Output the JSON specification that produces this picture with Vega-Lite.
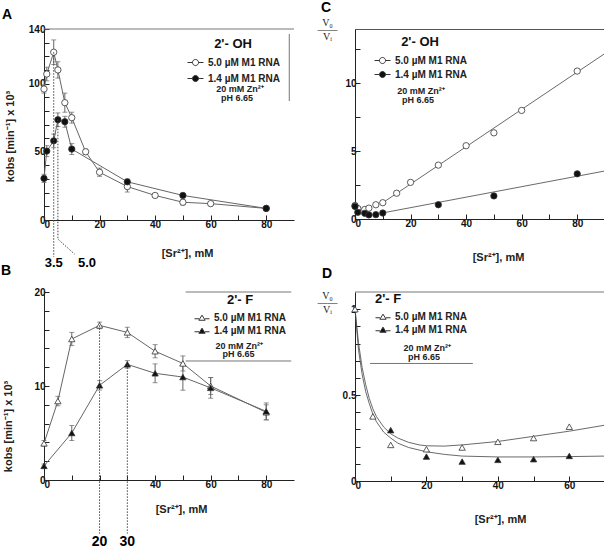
{
 "$schema": "https://vega.github.io/schema/vega-lite/v6.json",
 "background": "white",
 "padding": {"left": 1, "top": 0, "right": 0, "bottom": 0},
 "columns": 2,
 "spacing": {"row": -6, "column": 21},
 "resolve": {"scale": {"fill": "independent"}, "legend": {"fill": "independent"}},
 "datasets": {
  "one": [{"note": 1}],
  "a": [
   {"conc":0,"k":96,"err":3,"series":"5.0 µM M1 RNA"},
   {"conc":1,"k":107,"err":5,"series":"5.0 µM M1 RNA"},
   {"conc":3.5,"k":123,"err":9,"series":"5.0 µM M1 RNA"},
   {"conc":5,"k":110,"err":6,"series":"5.0 µM M1 RNA"},
   {"conc":7.5,"k":86,"err":7,"series":"5.0 µM M1 RNA"},
   {"conc":10,"k":75,"err":4,"series":"5.0 µM M1 RNA"},
   {"conc":15,"k":50,"err":2,"series":"5.0 µM M1 RNA"},
   {"conc":20,"k":35,"err":3,"series":"5.0 µM M1 RNA"},
   {"conc":30,"k":24.5,"err":4,"series":"5.0 µM M1 RNA"},
   {"conc":40,"k":18,"err":1.5,"series":"5.0 µM M1 RNA"},
   {"conc":50,"k":13,"err":2,"series":"5.0 µM M1 RNA"},
   {"conc":60,"k":12,"err":1.5,"series":"5.0 µM M1 RNA"},
   {"conc":80,"k":8.5,"err":1.5,"series":"5.0 µM M1 RNA"},
   {"conc":0,"k":30.5,"err":3,"series":"1.4 µM M1 RNA"},
   {"conc":1,"k":50.5,"err":4,"series":"1.4 µM M1 RNA"},
   {"conc":3.5,"k":58,"err":5,"series":"1.4 µM M1 RNA"},
   {"conc":5,"k":73.5,"err":5,"series":"1.4 µM M1 RNA"},
   {"conc":7.5,"k":72,"err":4,"series":"1.4 µM M1 RNA"},
   {"conc":10,"k":52,"err":4,"series":"1.4 µM M1 RNA"},
   {"conc":30,"k":28,"err":2,"series":"1.4 µM M1 RNA"},
   {"conc":50,"k":18,"err":1.5,"series":"1.4 µM M1 RNA"},
   {"conc":80,"k":8.5,"err":1.5,"series":"1.4 µM M1 RNA"}
  ],
  "a_guide": [
   {"conc":5,"k":73.5,"step":1},
   {"conc":5,"k":-14,"step":2},
   {"conc":11,"k":-25,"step":3}
  ],
  "c": [
   {"conc":0,"v":1.0,"series":"5.0 µM M1 RNA"},
   {"conc":1,"v":0.78,"series":"5.0 µM M1 RNA"},
   {"conc":3.5,"v":0.7,"series":"5.0 µM M1 RNA"},
   {"conc":5,"v":0.8,"series":"5.0 µM M1 RNA"},
   {"conc":7.5,"v":1.05,"series":"5.0 µM M1 RNA"},
   {"conc":10,"v":1.2,"series":"5.0 µM M1 RNA"},
   {"conc":15,"v":1.9,"series":"5.0 µM M1 RNA"},
   {"conc":20,"v":2.7,"series":"5.0 µM M1 RNA"},
   {"conc":30,"v":3.97,"series":"5.0 µM M1 RNA"},
   {"conc":40,"v":5.4,"series":"5.0 µM M1 RNA"},
   {"conc":50,"v":6.35,"series":"5.0 µM M1 RNA"},
   {"conc":60,"v":8.0,"series":"5.0 µM M1 RNA"},
   {"conc":80,"v":10.9,"series":"5.0 µM M1 RNA"},
   {"conc":0,"v":0.93,"series":"1.4 µM M1 RNA"},
   {"conc":1,"v":0.49,"series":"1.4 µM M1 RNA"},
   {"conc":3.5,"v":0.42,"series":"1.4 µM M1 RNA"},
   {"conc":5,"v":0.3,"series":"1.4 µM M1 RNA"},
   {"conc":7.5,"v":0.32,"series":"1.4 µM M1 RNA"},
   {"conc":10,"v":0.44,"series":"1.4 µM M1 RNA"},
   {"conc":30,"v":1.05,"series":"1.4 µM M1 RNA"},
   {"conc":50,"v":1.7,"series":"1.4 µM M1 RNA"},
   {"conc":80,"v":3.33,"series":"1.4 µM M1 RNA"}
  ],
  "c_fit": [
   {"conc":10,"v":1.2,"series":"5.0 µM M1 RNA"},
   {"conc":90,"v":12.2,"series":"5.0 µM M1 RNA"},
   {"conc":10,"v":0.45,"series":"1.4 µM M1 RNA"},
   {"conc":90,"v":3.54,"series":"1.4 µM M1 RNA"}
  ],
  "b": [
   {"conc":0,"k":3.9,"err":0.3,"series":"5.0 µM M1 RNA"},
   {"conc":5,"k":8.4,"err":0.5,"series":"5.0 µM M1 RNA"},
   {"conc":10,"k":15.0,"err":0.7,"series":"5.0 µM M1 RNA"},
   {"conc":20,"k":16.45,"err":0.35,"series":"5.0 µM M1 RNA"},
   {"conc":30,"k":15.7,"err":0.55,"series":"5.0 µM M1 RNA"},
   {"conc":40,"k":13.7,"err":0.7,"series":"5.0 µM M1 RNA"},
   {"conc":50,"k":12.4,"err":0.8,"series":"5.0 µM M1 RNA"},
   {"conc":60,"k":10.0,"err":0.9,"series":"5.0 µM M1 RNA"},
   {"conc":80,"k":7.2,"err":0.8,"series":"5.0 µM M1 RNA"},
   {"conc":0,"k":1.5,"err":0.2,"series":"1.4 µM M1 RNA"},
   {"conc":10,"k":5.0,"err":0.8,"series":"1.4 µM M1 RNA"},
   {"conc":20,"k":10.07,"err":0.5,"series":"1.4 µM M1 RNA"},
   {"conc":30,"k":12.3,"err":0.4,"series":"1.4 µM M1 RNA"},
   {"conc":40,"k":11.35,"err":1.0,"series":"1.4 µM M1 RNA"},
   {"conc":50,"k":10.95,"err":1.4,"series":"1.4 µM M1 RNA"},
   {"conc":60,"k":9.8,"err":1.1,"series":"1.4 µM M1 RNA"},
   {"conc":80,"k":7.3,"err":0.9,"series":"1.4 µM M1 RNA"}
  ],
  "d": [
   {"conc":0,"v":1.0,"series":"5.0 µM M1 RNA"},
   {"conc":5,"v":0.376,"series":"5.0 µM M1 RNA"},
   {"conc":10,"v":0.21,"series":"5.0 µM M1 RNA"},
   {"conc":20,"v":0.185,"series":"5.0 µM M1 RNA"},
   {"conc":30,"v":0.195,"series":"5.0 µM M1 RNA"},
   {"conc":40,"v":0.228,"series":"5.0 µM M1 RNA"},
   {"conc":50,"v":0.25,"series":"5.0 µM M1 RNA"},
   {"conc":60,"v":0.316,"series":"5.0 µM M1 RNA"},
   {"conc":10,"v":0.296,"series":"1.4 µM M1 RNA"},
   {"conc":20,"v":0.142,"series":"1.4 µM M1 RNA"},
   {"conc":30,"v":0.113,"series":"1.4 µM M1 RNA"},
   {"conc":40,"v":0.123,"series":"1.4 µM M1 RNA"},
   {"conc":50,"v":0.127,"series":"1.4 µM M1 RNA"},
   {"conc":60,"v":0.146,"series":"1.4 µM M1 RNA"}
  ],
  "d_fit": [
   {"conc":0,"v":1.0,"series":"5.0 µM M1 RNA"},
   {"conc":1,"v":0.8,"series":"5.0 µM M1 RNA"},
   {"conc":2,"v":0.66,"series":"5.0 µM M1 RNA"},
   {"conc":3,"v":0.56,"series":"5.0 µM M1 RNA"},
   {"conc":4,"v":0.48,"series":"5.0 µM M1 RNA"},
   {"conc":5,"v":0.42,"series":"5.0 µM M1 RNA"},
   {"conc":6,"v":0.375,"series":"5.0 µM M1 RNA"},
   {"conc":8,"v":0.315,"series":"5.0 µM M1 RNA"},
   {"conc":10,"v":0.275,"series":"5.0 µM M1 RNA"},
   {"conc":12,"v":0.25,"series":"5.0 µM M1 RNA"},
   {"conc":15,"v":0.225,"series":"5.0 µM M1 RNA"},
   {"conc":18,"v":0.21,"series":"5.0 µM M1 RNA"},
   {"conc":20,"v":0.205,"series":"5.0 µM M1 RNA"},
   {"conc":25,"v":0.203,"series":"5.0 µM M1 RNA"},
   {"conc":30,"v":0.21,"series":"5.0 µM M1 RNA"},
   {"conc":40,"v":0.23,"series":"5.0 µM M1 RNA"},
   {"conc":50,"v":0.26,"series":"5.0 µM M1 RNA"},
   {"conc":60,"v":0.29,"series":"5.0 µM M1 RNA"},
   {"conc":70,"v":0.325,"series":"5.0 µM M1 RNA"},
   {"conc":0,"v":1.0,"series":"1.4 µM M1 RNA"},
   {"conc":1,"v":0.76,"series":"1.4 µM M1 RNA"},
   {"conc":2,"v":0.62,"series":"1.4 µM M1 RNA"},
   {"conc":3,"v":0.52,"series":"1.4 µM M1 RNA"},
   {"conc":4,"v":0.45,"series":"1.4 µM M1 RNA"},
   {"conc":5,"v":0.39,"series":"1.4 µM M1 RNA"},
   {"conc":6,"v":0.345,"series":"1.4 µM M1 RNA"},
   {"conc":8,"v":0.285,"series":"1.4 µM M1 RNA"},
   {"conc":10,"v":0.25,"series":"1.4 µM M1 RNA"},
   {"conc":12,"v":0.22,"series":"1.4 µM M1 RNA"},
   {"conc":15,"v":0.195,"series":"1.4 µM M1 RNA"},
   {"conc":20,"v":0.17,"series":"1.4 µM M1 RNA"},
   {"conc":25,"v":0.155,"series":"1.4 µM M1 RNA"},
   {"conc":30,"v":0.145,"series":"1.4 µM M1 RNA"},
   {"conc":40,"v":0.14,"series":"1.4 µM M1 RNA"},
   {"conc":50,"v":0.14,"series":"1.4 µM M1 RNA"},
   {"conc":60,"v":0.142,"series":"1.4 µM M1 RNA"},
   {"conc":70,"v":0.145,"series":"1.4 µM M1 RNA"}
  ]
 },
 "concat": [
  {
   "width": 250, "height": 191,
   "title": {"text": "A", "dx": -42, "offset": 2},
   "layer": [
    {"data": {"name": "a"}, "mark": {"type": "line", "color": "#666", "strokeWidth": 1},
     "encoding": {
      "x": {"field": "conc", "type": "quantitative", "scale": {"domain": [0, 90], "nice": false, "zero": false}, "axis": {"title": "[Sr²⁺], mM", "values": [0,10,20,30,40,50,60,70,80], "labelExpr": "datum.value == 0 || datum.value == 20 || datum.value == 40 || datum.value == 60 || datum.value == 80 ? datum.label : ''", "titleX": 143, "titleY": 33, "titleBaseline": "middle", "titleAlign": "center"}},
      "y": {"field": "k", "type": "quantitative", "scale": {"domain": [0, 140], "nice": false, "zero": false}, "axis": {"title": "kobs [min⁻¹] x 10³", "values": [0,10,20,30,40,50,60,70,80,90,100,110,120,130,140], "labelExpr": "datum.value == 0 || datum.value == 50 || datum.value == 100 || datum.value == 140 ? datum.label : ''", "titleX": -34, "titleY": 107, "titleAngle": 270, "titleBaseline": "middle", "titleAlign": "center"}},
      "detail": {"field": "series"}}},
    {"data": {"name": "a"}, "mark": {"type": "errorbar", "ticks": true, "color": "#666"},
     "encoding": {
      "x": {"field": "conc", "type": "quantitative", "scale": {"domain": [0, 90], "nice": false, "zero": false}, "axis": {"title": "[Sr²⁺], mM", "values": [0,10,20,30,40,50,60,70,80], "labelExpr": "datum.value == 0 || datum.value == 20 || datum.value == 40 || datum.value == 60 || datum.value == 80 ? datum.label : ''", "titleX": 143, "titleY": 33, "titleBaseline": "middle", "titleAlign": "center"}},
      "y": {"field": "k", "type": "quantitative", "scale": {"domain": [0, 140], "nice": false, "zero": false}, "axis": {"title": "kobs [min⁻¹] x 10³", "values": [0,10,20,30,40,50,60,70,80,90,100,110,120,130,140], "labelExpr": "datum.value == 0 || datum.value == 50 || datum.value == 100 || datum.value == 140 ? datum.label : ''", "titleX": -34, "titleY": 107, "titleAngle": 270, "titleBaseline": "middle", "titleAlign": "center"}},
      "yError": {"field": "err"}}},
    {"data": {"name": "a"}, "mark": {"type": "point", "size": 40, "filled": true, "stroke": "#333", "strokeWidth": 0.8, "opacity": 1},
     "encoding": {
      "x": {"field": "conc", "type": "quantitative", "scale": {"domain": [0, 90], "nice": false, "zero": false}, "axis": {"title": "[Sr²⁺], mM", "values": [0,10,20,30,40,50,60,70,80], "labelExpr": "datum.value == 0 || datum.value == 20 || datum.value == 40 || datum.value == 60 || datum.value == 80 ? datum.label : ''", "titleX": 143, "titleY": 33, "titleBaseline": "middle", "titleAlign": "center"}},
      "y": {"field": "k", "type": "quantitative", "scale": {"domain": [0, 140], "nice": false, "zero": false}, "axis": {"title": "kobs [min⁻¹] x 10³", "values": [0,10,20,30,40,50,60,70,80,90,100,110,120,130,140], "labelExpr": "datum.value == 0 || datum.value == 50 || datum.value == 100 || datum.value == 140 ? datum.label : ''", "titleX": -34, "titleY": 107, "titleAngle": 270, "titleBaseline": "middle", "titleAlign": "center"}},
      "fill": {"field": "series", "type": "nominal", "scale": {"domain": ["5.0 µM M1 RNA", "1.4 µM M1 RNA"], "range": ["white", "#111"]},
       "legend": {"title": "2'- OH", "legendX": 143, "legendY": 9, "rowPadding": 2, "symbolType": "M-1,0H-0.38M0.38,0H1M0.38,0A0.38,0.38,0,1,1,-0.38,0A0.38,0.38,0,1,1,0.38,0Z", "symbolSize": 256, "symbolStrokeColor": "#333", "symbolStrokeWidth": 1}}}},
    {"data": {"name": "a_guide"}, "mark": {"type": "line", "color": "#444", "strokeWidth": 1, "strokeDash": [1.5, 1.5]},
     "encoding": {
      "x": {"field": "conc", "type": "quantitative", "scale": {"domain": [0, 90], "nice": false, "zero": false}, "axis": {"title": "[Sr²⁺], mM", "values": [0,10,20,30,40,50,60,70,80], "labelExpr": "datum.value == 0 || datum.value == 20 || datum.value == 40 || datum.value == 60 || datum.value == 80 ? datum.label : ''", "titleX": 143, "titleY": 33, "titleBaseline": "middle", "titleAlign": "center"}},
      "y": {"field": "k", "type": "quantitative", "scale": {"domain": [0, 140], "nice": false, "zero": false}, "axis": {"title": "kobs [min⁻¹] x 10³", "values": [0,10,20,30,40,50,60,70,80,90,100,110,120,130,140], "labelExpr": "datum.value == 0 || datum.value == 50 || datum.value == 100 || datum.value == 140 ? datum.label : ''", "titleX": -34, "titleY": 107, "titleAngle": 270, "titleBaseline": "middle", "titleAlign": "center"}},
      "order": {"field": "step"}}},
    {"data": {"name": "one"}, "mark": {"type": "rule", "color": "#444", "strokeWidth": 1, "strokeDash": [1.5, 1.5]},
     "encoding": {
      "x": {"datum": 3.5, "type": "quantitative", "scale": {"domain": [0, 90], "nice": false, "zero": false}, "axis": {"title": "[Sr²⁺], mM", "values": [0,10,20,30,40,50,60,70,80], "labelExpr": "datum.value == 0 || datum.value == 20 || datum.value == 40 || datum.value == 60 || datum.value == 80 ? datum.label : ''", "titleX": 143, "titleY": 33, "titleBaseline": "middle", "titleAlign": "center"}},
      "y": {"datum": 123, "type": "quantitative", "scale": {"domain": [0, 140], "nice": false, "zero": false}, "axis": {"title": "kobs [min⁻¹] x 10³", "values": [0,10,20,30,40,50,60,70,80,90,100,110,120,130,140], "labelExpr": "datum.value == 0 || datum.value == 50 || datum.value == 100 || datum.value == 140 ? datum.label : ''", "titleX": -34, "titleY": 107, "titleAngle": 270, "titleBaseline": "middle", "titleAlign": "center"}},
      "y2": {"datum": -27}}},
    {"data": {"name": "one"}, "mark": {"type": "text", "text": "3.5", "fontSize": 13, "fontWeight": "bold", "baseline": "middle", "align": "center", "color": "#000"},
     "encoding": {
      "x": {"datum": 3.5, "type": "quantitative", "scale": {"domain": [0, 90], "nice": false, "zero": false}, "axis": {"title": "[Sr²⁺], mM", "values": [0,10,20,30,40,50,60,70,80], "labelExpr": "datum.value == 0 || datum.value == 20 || datum.value == 40 || datum.value == 60 || datum.value == 80 ? datum.label : ''", "titleX": 143, "titleY": 33, "titleBaseline": "middle", "titleAlign": "center"}},
      "y": {"datum": -31.5, "type": "quantitative", "scale": {"domain": [0, 140], "nice": false, "zero": false}, "axis": {"title": "kobs [min⁻¹] x 10³", "values": [0,10,20,30,40,50,60,70,80,90,100,110,120,130,140], "labelExpr": "datum.value == 0 || datum.value == 50 || datum.value == 100 || datum.value == 140 ? datum.label : ''", "titleX": -34, "titleY": 107, "titleAngle": 270, "titleBaseline": "middle", "titleAlign": "center"}}}},
    {"data": {"name": "one"}, "mark": {"type": "text", "text": "5.0", "fontSize": 13, "fontWeight": "bold", "baseline": "middle", "align": "center", "color": "#000"},
     "encoding": {
      "x": {"datum": 15.5, "type": "quantitative", "scale": {"domain": [0, 90], "nice": false, "zero": false}, "axis": {"title": "[Sr²⁺], mM", "values": [0,10,20,30,40,50,60,70,80], "labelExpr": "datum.value == 0 || datum.value == 20 || datum.value == 40 || datum.value == 60 || datum.value == 80 ? datum.label : ''", "titleX": 143, "titleY": 33, "titleBaseline": "middle", "titleAlign": "center"}},
      "y": {"datum": -31.5, "type": "quantitative", "scale": {"domain": [0, 140], "nice": false, "zero": false}, "axis": {"title": "kobs [min⁻¹] x 10³", "values": [0,10,20,30,40,50,60,70,80,90,100,110,120,130,140], "labelExpr": "datum.value == 0 || datum.value == 50 || datum.value == 100 || datum.value == 140 ? datum.label : ''", "titleX": -34, "titleY": 107, "titleAngle": 270, "titleBaseline": "middle", "titleAlign": "center"}}}},
    {"data": {"name": "one"}, "mark": {"type": "text", "text": "20 mM Zn²⁺", "fontSize": 9, "fontWeight": "bold", "baseline": "middle", "align": "center", "color": "#222"},
     "encoding": {
      "x": {"datum": 70.6, "type": "quantitative", "scale": {"domain": [0, 90], "nice": false, "zero": false}, "axis": {"title": "[Sr²⁺], mM", "values": [0,10,20,30,40,50,60,70,80], "labelExpr": "datum.value == 0 || datum.value == 20 || datum.value == 40 || datum.value == 60 || datum.value == 80 ? datum.label : ''", "titleX": 143, "titleY": 33, "titleBaseline": "middle", "titleAlign": "center"}},
      "y": {"datum": 96, "type": "quantitative", "scale": {"domain": [0, 140], "nice": false, "zero": false}, "axis": {"title": "kobs [min⁻¹] x 10³", "values": [0,10,20,30,40,50,60,70,80,90,100,110,120,130,140], "labelExpr": "datum.value == 0 || datum.value == 50 || datum.value == 100 || datum.value == 140 ? datum.label : ''", "titleX": -34, "titleY": 107, "titleAngle": 270, "titleBaseline": "middle", "titleAlign": "center"}}}},
    {"data": {"name": "one"}, "mark": {"type": "text", "text": "pH 6.65", "fontSize": 9, "fontWeight": "bold", "baseline": "middle", "align": "center", "color": "#222"},
     "encoding": {
      "x": {"datum": 69.5, "type": "quantitative", "scale": {"domain": [0, 90], "nice": false, "zero": false}, "axis": {"title": "[Sr²⁺], mM", "values": [0,10,20,30,40,50,60,70,80], "labelExpr": "datum.value == 0 || datum.value == 20 || datum.value == 40 || datum.value == 60 || datum.value == 80 ? datum.label : ''", "titleX": 143, "titleY": 33, "titleBaseline": "middle", "titleAlign": "center"}},
      "y": {"datum": 89.4, "type": "quantitative", "scale": {"domain": [0, 140], "nice": false, "zero": false}, "axis": {"title": "kobs [min⁻¹] x 10³", "values": [0,10,20,30,40,50,60,70,80,90,100,110,120,130,140], "labelExpr": "datum.value == 0 || datum.value == 50 || datum.value == 100 || datum.value == 140 ? datum.label : ''", "titleX": -34, "titleY": 107, "titleAngle": 270, "titleBaseline": "middle", "titleAlign": "center"}}}},
    {"data": {"name": "one"}, "mark": {"type": "rule", "color": "#777", "strokeWidth": 1},
     "encoding": {
      "x": {"datum": 0, "type": "quantitative", "scale": {"domain": [0, 90], "nice": false, "zero": false}, "axis": {"title": "[Sr²⁺], mM", "values": [0,10,20,30,40,50,60,70,80], "labelExpr": "datum.value == 0 || datum.value == 20 || datum.value == 40 || datum.value == 60 || datum.value == 80 ? datum.label : ''", "titleX": 143, "titleY": 33, "titleBaseline": "middle", "titleAlign": "center"}},
      "x2": {"datum": 90},
      "y": {"datum": 140, "type": "quantitative", "scale": {"domain": [0, 140], "nice": false, "zero": false}, "axis": {"title": "kobs [min⁻¹] x 10³", "values": [0,10,20,30,40,50,60,70,80,90,100,110,120,130,140], "labelExpr": "datum.value == 0 || datum.value == 50 || datum.value == 100 || datum.value == 140 ? datum.label : ''", "titleX": -34, "titleY": 107, "titleAngle": 270, "titleBaseline": "middle", "titleAlign": "center"}}}},
    {"data": {"name": "one"}, "mark": {"type": "rule", "color": "#777", "strokeWidth": 1},
     "encoding": {
      "x": {"datum": 88.3, "type": "quantitative", "scale": {"domain": [0, 90], "nice": false, "zero": false}, "axis": {"title": "[Sr²⁺], mM", "values": [0,10,20,30,40,50,60,70,80], "labelExpr": "datum.value == 0 || datum.value == 20 || datum.value == 40 || datum.value == 60 || datum.value == 80 ? datum.label : ''", "titleX": 143, "titleY": 33, "titleBaseline": "middle", "titleAlign": "center"}},
      "y": {"datum": 136.4, "type": "quantitative", "scale": {"domain": [0, 140], "nice": false, "zero": false}, "axis": {"title": "kobs [min⁻¹] x 10³", "values": [0,10,20,30,40,50,60,70,80,90,100,110,120,130,140], "labelExpr": "datum.value == 0 || datum.value == 50 || datum.value == 100 || datum.value == 140 ? datum.label : ''", "titleX": -34, "titleY": 107, "titleAngle": 270, "titleBaseline": "middle", "titleAlign": "center"}},
      "y2": {"datum": 87.2}}}
   ]
  },
  {
   "width": 250, "height": 190,
   "title": {"text": "C", "dx": -34, "offset": 2},
   "view": {"stroke": "#555", "strokeWidth": 1},
   "layer": [
    {"data": {"name": "c_fit"}, "mark": {"type": "line", "color": "#444", "strokeWidth": 0.8},
     "encoding": {
      "x": {"field": "conc", "type": "quantitative", "scale": {"domain": [0, 90], "nice": false, "zero": false}, "axis": {"title": "[Sr²⁺], mM", "values": [0,10,20,30,40,50,60,70,80], "labelExpr": "datum.value == 0 || datum.value == 20 || datum.value == 40 || datum.value == 60 || datum.value == 80 ? datum.label : ''", "titleX": 143, "titleY": 38, "titleBaseline": "middle", "titleAlign": "center"}},
      "y": {"field": "v", "type": "quantitative", "scale": {"domain": [0, 14], "nice": false, "zero": false}, "axis": {"title": ["V₀", "——", "Vᵢ"], "values": [0,2.5,5,7.5,10,12.5], "labelExpr": "datum.value == 0 || datum.value == 5 || datum.value == 10 ? datum.label : ''", "titleX": -28, "titleY": -12, "titleAngle": 0, "titleBaseline": "top", "titleAlign": "center", "titleFont": "Liberation Serif", "titleFontWeight": "normal", "titleFontSize": 10, "titleLineHeight": 7}},
      "detail": {"field": "series"}}},
    {"data": {"name": "c"}, "mark": {"type": "point", "size": 40, "filled": true, "stroke": "#333", "strokeWidth": 0.8, "opacity": 1},
     "encoding": {
      "x": {"field": "conc", "type": "quantitative", "scale": {"domain": [0, 90], "nice": false, "zero": false}, "axis": {"title": "[Sr²⁺], mM", "values": [0,10,20,30,40,50,60,70,80], "labelExpr": "datum.value == 0 || datum.value == 20 || datum.value == 40 || datum.value == 60 || datum.value == 80 ? datum.label : ''", "titleX": 143, "titleY": 38, "titleBaseline": "middle", "titleAlign": "center"}},
      "y": {"field": "v", "type": "quantitative", "scale": {"domain": [0, 14], "nice": false, "zero": false}, "axis": {"title": ["V₀", "——", "Vᵢ"], "values": [0,2.5,5,7.5,10,12.5], "labelExpr": "datum.value == 0 || datum.value == 5 || datum.value == 10 ? datum.label : ''", "titleX": -28, "titleY": -12, "titleAngle": 0, "titleBaseline": "top", "titleAlign": "center", "titleFont": "Liberation Serif", "titleFontWeight": "normal", "titleFontSize": 10, "titleLineHeight": 7}},
      "fill": {"field": "series", "type": "nominal", "scale": {"domain": ["5.0 µM M1 RNA", "1.4 µM M1 RNA"], "range": ["white", "#111"]},
       "legend": {"title": "2'- OH", "legendX": 19, "legendY": 7, "rowPadding": -3, "symbolType": "M-1,0H-0.38M0.38,0H1M0.38,0A0.38,0.38,0,1,1,-0.38,0A0.38,0.38,0,1,1,0.38,0Z", "symbolSize": 256, "symbolStrokeColor": "#333", "symbolStrokeWidth": 1}}}},
    {"data": {"name": "one"}, "mark": {"type": "text", "text": "20 mM Zn²⁺", "fontSize": 9, "fontWeight": "bold", "baseline": "middle", "align": "center", "color": "#222"},
     "encoding": {
      "x": {"datum": 23.8, "type": "quantitative", "scale": {"domain": [0, 90], "nice": false, "zero": false}, "axis": {"title": "[Sr²⁺], mM", "values": [0,10,20,30,40,50,60,70,80], "labelExpr": "datum.value == 0 || datum.value == 20 || datum.value == 40 || datum.value == 60 || datum.value == 80 ? datum.label : ''", "titleX": 143, "titleY": 38, "titleBaseline": "middle", "titleAlign": "center"}},
      "y": {"datum": 9.41, "type": "quantitative", "scale": {"domain": [0, 14], "nice": false, "zero": false}, "axis": {"title": ["V₀", "——", "Vᵢ"], "values": [0,2.5,5,7.5,10,12.5], "labelExpr": "datum.value == 0 || datum.value == 5 || datum.value == 10 ? datum.label : ''", "titleX": -28, "titleY": -12, "titleAngle": 0, "titleBaseline": "top", "titleAlign": "center", "titleFont": "Liberation Serif", "titleFontWeight": "normal", "titleFontSize": 10, "titleLineHeight": 7}}}},
    {"data": {"name": "one"}, "mark": {"type": "text", "text": "pH 6.65", "fontSize": 9, "fontWeight": "bold", "baseline": "middle", "align": "center", "color": "#222"},
     "encoding": {
      "x": {"datum": 22.7, "type": "quantitative", "scale": {"domain": [0, 90], "nice": false, "zero": false}, "axis": {"title": "[Sr²⁺], mM", "values": [0,10,20,30,40,50,60,70,80], "labelExpr": "datum.value == 0 || datum.value == 20 || datum.value == 40 || datum.value == 60 || datum.value == 80 ? datum.label : ''", "titleX": 143, "titleY": 38, "titleBaseline": "middle", "titleAlign": "center"}},
      "y": {"datum": 8.76, "type": "quantitative", "scale": {"domain": [0, 14], "nice": false, "zero": false}, "axis": {"title": ["V₀", "——", "Vᵢ"], "values": [0,2.5,5,7.5,10,12.5], "labelExpr": "datum.value == 0 || datum.value == 5 || datum.value == 10 ? datum.label : ''", "titleX": -28, "titleY": -12, "titleAngle": 0, "titleBaseline": "top", "titleAlign": "center", "titleFont": "Liberation Serif", "titleFontWeight": "normal", "titleFontSize": 10, "titleLineHeight": 7}}}}
   ]
  },
  {
   "width": 250, "height": 188,
   "title": {"text": "B", "dx": -43, "offset": 9},
   "layer": [
    {"data": {"name": "b"}, "mark": {"type": "line", "color": "#666", "strokeWidth": 1},
     "encoding": {
      "x": {"field": "conc", "type": "quantitative", "scale": {"domain": [0, 90], "nice": false, "zero": false}, "axis": {"title": "[Sr²⁺], mM", "values": [0,10,20,30,40,50,60,70,80], "labelExpr": "datum.value == 0 || datum.value == 40 || datum.value == 60 || datum.value == 80 ? datum.label : ''", "titleX": 137, "titleY": 29, "titleBaseline": "middle", "titleAlign": "center"}},
      "y": {"field": "k", "type": "quantitative", "scale": {"domain": [0, 20], "nice": false, "zero": false}, "axis": {"title": "kobs [min⁻¹] x 10³", "values": [0,2,4,6,8,10,12,14,16,18,20], "labelExpr": "datum.value == 0 || datum.value == 10 || datum.value == 20 ? datum.label : ''", "titleX": -36, "titleY": 134, "titleAngle": 270, "titleBaseline": "middle", "titleAlign": "center"}},
      "detail": {"field": "series"}}},
    {"data": {"name": "b"}, "mark": {"type": "errorbar", "ticks": true, "color": "#666"},
     "encoding": {
      "x": {"field": "conc", "type": "quantitative", "scale": {"domain": [0, 90], "nice": false, "zero": false}, "axis": {"title": "[Sr²⁺], mM", "values": [0,10,20,30,40,50,60,70,80], "labelExpr": "datum.value == 0 || datum.value == 40 || datum.value == 60 || datum.value == 80 ? datum.label : ''", "titleX": 137, "titleY": 29, "titleBaseline": "middle", "titleAlign": "center"}},
      "y": {"field": "k", "type": "quantitative", "scale": {"domain": [0, 20], "nice": false, "zero": false}, "axis": {"title": "kobs [min⁻¹] x 10³", "values": [0,2,4,6,8,10,12,14,16,18,20], "labelExpr": "datum.value == 0 || datum.value == 10 || datum.value == 20 ? datum.label : ''", "titleX": -36, "titleY": 134, "titleAngle": 270, "titleBaseline": "middle", "titleAlign": "center"}},
      "yError": {"field": "err"}}},
    {"data": {"name": "b"}, "mark": {"type": "point", "size": 40, "filled": true, "stroke": "#333", "strokeWidth": 0.8, "opacity": 1},
     "encoding": {
      "x": {"field": "conc", "type": "quantitative", "scale": {"domain": [0, 90], "nice": false, "zero": false}, "axis": {"title": "[Sr²⁺], mM", "values": [0,10,20,30,40,50,60,70,80], "labelExpr": "datum.value == 0 || datum.value == 40 || datum.value == 60 || datum.value == 80 ? datum.label : ''", "titleX": 137, "titleY": 29, "titleBaseline": "middle", "titleAlign": "center"}},
      "y": {"field": "k", "type": "quantitative", "scale": {"domain": [0, 20], "nice": false, "zero": false}, "axis": {"title": "kobs [min⁻¹] x 10³", "values": [0,2,4,6,8,10,12,14,16,18,20], "labelExpr": "datum.value == 0 || datum.value == 10 || datum.value == 20 ? datum.label : ''", "titleX": -36, "titleY": 134, "titleAngle": 270, "titleBaseline": "middle", "titleAlign": "center"}},
      "shape": {"value": "triangle-up"},
      "fill": {"field": "series", "type": "nominal", "scale": {"domain": ["5.0 µM M1 RNA", "1.4 µM M1 RNA"], "range": ["white", "#111"]},
       "legend": {"title": "2'- F", "legendX": 150, "legendY": 2, "rowPadding": -4, "symbolType": "M-1,0.1H-0.4M0.4,0.1H1M0,-0.38L0.42,0.3L-0.42,0.3Z", "symbolSize": 225, "symbolStrokeColor": "#333", "symbolStrokeWidth": 1}}}},
    {"data": {"name": "one"}, "mark": {"type": "rule", "color": "#444", "strokeWidth": 1, "strokeDash": [1.5, 1.5]},
     "encoding": {
      "x": {"datum": 20, "type": "quantitative", "scale": {"domain": [0, 90], "nice": false, "zero": false}, "axis": {"title": "[Sr²⁺], mM", "values": [0,10,20,30,40,50,60,70,80], "labelExpr": "datum.value == 0 || datum.value == 40 || datum.value == 60 || datum.value == 80 ? datum.label : ''", "titleX": 137, "titleY": 29, "titleBaseline": "middle", "titleAlign": "center"}},
      "y": {"datum": 16.45, "type": "quantitative", "scale": {"domain": [0, 20], "nice": false, "zero": false}, "axis": {"title": "kobs [min⁻¹] x 10³", "values": [0,2,4,6,8,10,12,14,16,18,20], "labelExpr": "datum.value == 0 || datum.value == 10 || datum.value == 20 ? datum.label : ''", "titleX": -36, "titleY": 134, "titleAngle": 270, "titleBaseline": "middle", "titleAlign": "center"}},
      "y2": {"datum": -5.7}}},
    {"data": {"name": "one"}, "mark": {"type": "rule", "color": "#444", "strokeWidth": 1, "strokeDash": [1.5, 1.5]},
     "encoding": {
      "x": {"datum": 30, "type": "quantitative", "scale": {"domain": [0, 90], "nice": false, "zero": false}, "axis": {"title": "[Sr²⁺], mM", "values": [0,10,20,30,40,50,60,70,80], "labelExpr": "datum.value == 0 || datum.value == 40 || datum.value == 60 || datum.value == 80 ? datum.label : ''", "titleX": 137, "titleY": 29, "titleBaseline": "middle", "titleAlign": "center"}},
      "y": {"datum": 12.3, "type": "quantitative", "scale": {"domain": [0, 20], "nice": false, "zero": false}, "axis": {"title": "kobs [min⁻¹] x 10³", "values": [0,2,4,6,8,10,12,14,16,18,20], "labelExpr": "datum.value == 0 || datum.value == 10 || datum.value == 20 ? datum.label : ''", "titleX": -36, "titleY": 134, "titleAngle": 270, "titleBaseline": "middle", "titleAlign": "center"}},
      "y2": {"datum": -5.7}}},
    {"data": {"name": "one"}, "mark": {"type": "text", "text": "20", "fontSize": 14, "fontWeight": "bold", "baseline": "middle", "align": "center", "color": "#000"},
     "encoding": {
      "x": {"datum": 20, "type": "quantitative", "scale": {"domain": [0, 90], "nice": false, "zero": false}, "axis": {"title": "[Sr²⁺], mM", "values": [0,10,20,30,40,50,60,70,80], "labelExpr": "datum.value == 0 || datum.value == 40 || datum.value == 60 || datum.value == 80 ? datum.label : ''", "titleX": 137, "titleY": 29, "titleBaseline": "middle", "titleAlign": "center"}},
      "y": {"datum": -6.6, "type": "quantitative", "scale": {"domain": [0, 20], "nice": false, "zero": false}, "axis": {"title": "kobs [min⁻¹] x 10³", "values": [0,2,4,6,8,10,12,14,16,18,20], "labelExpr": "datum.value == 0 || datum.value == 10 || datum.value == 20 ? datum.label : ''", "titleX": -36, "titleY": 134, "titleAngle": 270, "titleBaseline": "middle", "titleAlign": "center"}}}},
    {"data": {"name": "one"}, "mark": {"type": "text", "text": "30", "fontSize": 14, "fontWeight": "bold", "baseline": "middle", "align": "center", "color": "#000"},
     "encoding": {
      "x": {"datum": 30, "type": "quantitative", "scale": {"domain": [0, 90], "nice": false, "zero": false}, "axis": {"title": "[Sr²⁺], mM", "values": [0,10,20,30,40,50,60,70,80], "labelExpr": "datum.value == 0 || datum.value == 40 || datum.value == 60 || datum.value == 80 ? datum.label : ''", "titleX": 137, "titleY": 29, "titleBaseline": "middle", "titleAlign": "center"}},
      "y": {"datum": -6.6, "type": "quantitative", "scale": {"domain": [0, 20], "nice": false, "zero": false}, "axis": {"title": "kobs [min⁻¹] x 10³", "values": [0,2,4,6,8,10,12,14,16,18,20], "labelExpr": "datum.value == 0 || datum.value == 10 || datum.value == 20 ? datum.label : ''", "titleX": -36, "titleY": 134, "titleAngle": 270, "titleBaseline": "middle", "titleAlign": "center"}}}},
    {"data": {"name": "one"}, "mark": {"type": "text", "text": "20 mM Zn²⁺", "fontSize": 9, "fontWeight": "bold", "baseline": "middle", "align": "center", "color": "#222"},
     "encoding": {
      "x": {"datum": 70.3, "type": "quantitative", "scale": {"domain": [0, 90], "nice": false, "zero": false}, "axis": {"title": "[Sr²⁺], mM", "values": [0,10,20,30,40,50,60,70,80], "labelExpr": "datum.value == 0 || datum.value == 40 || datum.value == 60 || datum.value == 80 ? datum.label : ''", "titleX": 137, "titleY": 29, "titleBaseline": "middle", "titleAlign": "center"}},
      "y": {"datum": 14.26, "type": "quantitative", "scale": {"domain": [0, 20], "nice": false, "zero": false}, "axis": {"title": "kobs [min⁻¹] x 10³", "values": [0,2,4,6,8,10,12,14,16,18,20], "labelExpr": "datum.value == 0 || datum.value == 10 || datum.value == 20 ? datum.label : ''", "titleX": -36, "titleY": 134, "titleAngle": 270, "titleBaseline": "middle", "titleAlign": "center"}}}},
    {"data": {"name": "one"}, "mark": {"type": "text", "text": "pH 6.65", "fontSize": 9, "fontWeight": "bold", "baseline": "middle", "align": "center", "color": "#222"},
     "encoding": {
      "x": {"datum": 70, "type": "quantitative", "scale": {"domain": [0, 90], "nice": false, "zero": false}, "axis": {"title": "[Sr²⁺], mM", "values": [0,10,20,30,40,50,60,70,80], "labelExpr": "datum.value == 0 || datum.value == 40 || datum.value == 60 || datum.value == 80 ? datum.label : ''", "titleX": 137, "titleY": 29, "titleBaseline": "middle", "titleAlign": "center"}},
      "y": {"datum": 13.4, "type": "quantitative", "scale": {"domain": [0, 20], "nice": false, "zero": false}, "axis": {"title": "kobs [min⁻¹] x 10³", "values": [0,2,4,6,8,10,12,14,16,18,20], "labelExpr": "datum.value == 0 || datum.value == 10 || datum.value == 20 ? datum.label : ''", "titleX": -36, "titleY": 134, "titleAngle": 270, "titleBaseline": "middle", "titleAlign": "center"}}}},
    {"data": {"name": "one"}, "mark": {"type": "rule", "color": "#777", "strokeWidth": 1},
     "encoding": {
      "x": {"datum": 51, "type": "quantitative", "scale": {"domain": [0, 90], "nice": false, "zero": false}, "axis": {"title": "[Sr²⁺], mM", "values": [0,10,20,30,40,50,60,70,80], "labelExpr": "datum.value == 0 || datum.value == 40 || datum.value == 60 || datum.value == 80 ? datum.label : ''", "titleX": 137, "titleY": 29, "titleBaseline": "middle", "titleAlign": "center"}},
      "x2": {"datum": 89},
      "y": {"datum": 20, "type": "quantitative", "scale": {"domain": [0, 20], "nice": false, "zero": false}, "axis": {"title": "kobs [min⁻¹] x 10³", "values": [0,2,4,6,8,10,12,14,16,18,20], "labelExpr": "datum.value == 0 || datum.value == 10 || datum.value == 20 ? datum.label : ''", "titleX": -36, "titleY": 134, "titleAngle": 270, "titleBaseline": "middle", "titleAlign": "center"}}}},
    {"data": {"name": "one"}, "mark": {"type": "rule", "color": "#777", "strokeWidth": 1},
     "encoding": {
      "x": {"datum": 51, "type": "quantitative", "scale": {"domain": [0, 90], "nice": false, "zero": false}, "axis": {"title": "[Sr²⁺], mM", "values": [0,10,20,30,40,50,60,70,80], "labelExpr": "datum.value == 0 || datum.value == 40 || datum.value == 60 || datum.value == 80 ? datum.label : ''", "titleX": 137, "titleY": 29, "titleBaseline": "middle", "titleAlign": "center"}},
      "x2": {"datum": 89},
      "y": {"datum": 12.66, "type": "quantitative", "scale": {"domain": [0, 20], "nice": false, "zero": false}, "axis": {"title": "kobs [min⁻¹] x 10³", "values": [0,2,4,6,8,10,12,14,16,18,20], "labelExpr": "datum.value == 0 || datum.value == 10 || datum.value == 20 ? datum.label : ''", "titleX": -36, "titleY": 134, "titleAngle": 270, "titleBaseline": "middle", "titleAlign": "center"}}}}
   ]
  },
  {
   "width": 250, "height": 189,
   "title": {"text": "D", "dx": -33, "offset": 9},
   "layer": [
    {"data": {"name": "d_fit"}, "mark": {"type": "line", "color": "#444", "strokeWidth": 0.8},
     "encoding": {
      "x": {"field": "conc", "type": "quantitative", "scale": {"domain": [0, 70], "nice": false, "zero": false}, "axis": {"title": "[Sr²⁺], mM", "values": [0,10,20,30,40,50,60,70], "labelExpr": "datum.value == 0 || datum.value == 20 || datum.value == 40 || datum.value == 60 ? datum.label : ''", "titleX": 145, "titleY": 38, "titleBaseline": "middle", "titleAlign": "center"}},
      "y": {"field": "v", "type": "quantitative", "scale": {"domain": [0, 1.1], "nice": false, "zero": false}, "axis": {"title": ["V₀", "——", "Vᵢ"], "values": [0,0.1,0.2,0.3,0.4,0.5,0.6,0.7,0.8,0.9,1], "labelExpr": "datum.value == 0 ? '0' : datum.value == 0.5 ? '0.5' : datum.value == 1 ? '1' : ''", "titleX": -28, "titleY": -2, "titleAngle": 0, "titleBaseline": "top", "titleAlign": "center", "titleFont": "Liberation Serif", "titleFontWeight": "normal", "titleFontSize": 10, "titleLineHeight": 7}},
      "detail": {"field": "series"}}},
    {"data": {"name": "d"}, "mark": {"type": "point", "size": 40, "filled": true, "stroke": "#333", "strokeWidth": 0.8, "opacity": 1},
     "encoding": {
      "x": {"field": "conc", "type": "quantitative", "scale": {"domain": [0, 70], "nice": false, "zero": false}, "axis": {"title": "[Sr²⁺], mM", "values": [0,10,20,30,40,50,60,70], "labelExpr": "datum.value == 0 || datum.value == 20 || datum.value == 40 || datum.value == 60 ? datum.label : ''", "titleX": 145, "titleY": 38, "titleBaseline": "middle", "titleAlign": "center"}},
      "y": {"field": "v", "type": "quantitative", "scale": {"domain": [0, 1.1], "nice": false, "zero": false}, "axis": {"title": ["V₀", "——", "Vᵢ"], "values": [0,0.1,0.2,0.3,0.4,0.5,0.6,0.7,0.8,0.9,1], "labelExpr": "datum.value == 0 ? '0' : datum.value == 0.5 ? '0.5' : datum.value == 1 ? '1' : ''", "titleX": -28, "titleY": -2, "titleAngle": 0, "titleBaseline": "top", "titleAlign": "center", "titleFont": "Liberation Serif", "titleFontWeight": "normal", "titleFontSize": 10, "titleLineHeight": 7}},
      "shape": {"value": "triangle-up"},
      "fill": {"field": "series", "type": "nominal", "scale": {"domain": ["5.0 µM M1 RNA", "1.4 µM M1 RNA"], "range": ["white", "#111"]},
       "legend": {"title": "2'- F", "legendX": 20, "legendY": 1, "rowPadding": -3, "titleAnchor": "start", "symbolType": "M-1,0.1H-0.4M0.4,0.1H1M0,-0.38L0.42,0.3L-0.42,0.3Z", "symbolSize": 225, "symbolStrokeColor": "#333", "symbolStrokeWidth": 1}}}},
    {"data": {"name": "one"}, "mark": {"type": "text", "text": "20 mM Zn²⁺", "fontSize": 9, "fontWeight": "bold", "baseline": "middle", "align": "center", "color": "#222"},
     "encoding": {
      "x": {"datum": 20.2, "type": "quantitative", "scale": {"domain": [0, 70], "nice": false, "zero": false}, "axis": {"title": "[Sr²⁺], mM", "values": [0,10,20,30,40,50,60,70], "labelExpr": "datum.value == 0 || datum.value == 20 || datum.value == 40 || datum.value == 60 ? datum.label : ''", "titleX": 145, "titleY": 38, "titleBaseline": "middle", "titleAlign": "center"}},
      "y": {"datum": 0.772, "type": "quantitative", "scale": {"domain": [0, 1.1], "nice": false, "zero": false}, "axis": {"title": ["V₀", "——", "Vᵢ"], "values": [0,0.1,0.2,0.3,0.4,0.5,0.6,0.7,0.8,0.9,1], "labelExpr": "datum.value == 0 ? '0' : datum.value == 0.5 ? '0.5' : datum.value == 1 ? '1' : ''", "titleX": -28, "titleY": -2, "titleAngle": 0, "titleBaseline": "top", "titleAlign": "center", "titleFont": "Liberation Serif", "titleFontWeight": "normal", "titleFontSize": 10, "titleLineHeight": 7}}}},
    {"data": {"name": "one"}, "mark": {"type": "text", "text": "pH 6.65", "fontSize": 9, "fontWeight": "bold", "baseline": "middle", "align": "center", "color": "#222"},
     "encoding": {
      "x": {"datum": 19.3, "type": "quantitative", "scale": {"domain": [0, 70], "nice": false, "zero": false}, "axis": {"title": "[Sr²⁺], mM", "values": [0,10,20,30,40,50,60,70], "labelExpr": "datum.value == 0 || datum.value == 20 || datum.value == 40 || datum.value == 60 ? datum.label : ''", "titleX": 145, "titleY": 38, "titleBaseline": "middle", "titleAlign": "center"}},
      "y": {"datum": 0.719, "type": "quantitative", "scale": {"domain": [0, 1.1], "nice": false, "zero": false}, "axis": {"title": ["V₀", "——", "Vᵢ"], "values": [0,0.1,0.2,0.3,0.4,0.5,0.6,0.7,0.8,0.9,1], "labelExpr": "datum.value == 0 ? '0' : datum.value == 0.5 ? '0.5' : datum.value == 1 ? '1' : ''", "titleX": -28, "titleY": -2, "titleAngle": 0, "titleBaseline": "top", "titleAlign": "center", "titleFont": "Liberation Serif", "titleFontWeight": "normal", "titleFontSize": 10, "titleLineHeight": 7}}}},
    {"data": {"name": "one"}, "mark": {"type": "rule", "color": "#777", "strokeWidth": 1},
     "encoding": {
      "x": {"datum": 4.2, "type": "quantitative", "scale": {"domain": [0, 70], "nice": false, "zero": false}, "axis": {"title": "[Sr²⁺], mM", "values": [0,10,20,30,40,50,60,70], "labelExpr": "datum.value == 0 || datum.value == 20 || datum.value == 40 || datum.value == 60 ? datum.label : ''", "titleX": 145, "titleY": 38, "titleBaseline": "middle", "titleAlign": "center"}},
      "x2": {"datum": 33},
      "y": {"datum": 0.684, "type": "quantitative", "scale": {"domain": [0, 1.1], "nice": false, "zero": false}, "axis": {"title": ["V₀", "——", "Vᵢ"], "values": [0,0.1,0.2,0.3,0.4,0.5,0.6,0.7,0.8,0.9,1], "labelExpr": "datum.value == 0 ? '0' : datum.value == 0.5 ? '0.5' : datum.value == 1 ? '1' : ''", "titleX": -28, "titleY": -2, "titleAngle": 0, "titleBaseline": "top", "titleAlign": "center", "titleFont": "Liberation Serif", "titleFontWeight": "normal", "titleFontSize": 10, "titleLineHeight": 7}}}},
    {"data": {"name": "one"}, "mark": {"type": "rule", "color": "#777", "strokeWidth": 1},
     "encoding": {
      "x": {"datum": 0, "type": "quantitative", "scale": {"domain": [0, 70], "nice": false, "zero": false}, "axis": {"title": "[Sr²⁺], mM", "values": [0,10,20,30,40,50,60,70], "labelExpr": "datum.value == 0 || datum.value == 20 || datum.value == 40 || datum.value == 60 ? datum.label : ''", "titleX": 145, "titleY": 38, "titleBaseline": "middle", "titleAlign": "center"}},
      "x2": {"datum": 70},
      "y": {"datum": 1.1, "type": "quantitative", "scale": {"domain": [0, 1.1], "nice": false, "zero": false}, "axis": {"title": ["V₀", "——", "Vᵢ"], "values": [0,0.1,0.2,0.3,0.4,0.5,0.6,0.7,0.8,0.9,1], "labelExpr": "datum.value == 0 ? '0' : datum.value == 0.5 ? '0.5' : datum.value == 1 ? '1' : ''", "titleX": -28, "titleY": -2, "titleAngle": 0, "titleBaseline": "top", "titleAlign": "center", "titleFont": "Liberation Serif", "titleFontWeight": "normal", "titleFontSize": 10, "titleLineHeight": 7}}}}
   ]
  }
 ],
 "config": {
  "font": "Liberation Sans",
  "view": {"stroke": null},
  "axis": {"grid": false, "domainColor": "#222", "tickColor": "#222", "tickSize": -5, "labelPadding": 4, "labelFont": "Liberation Sans", "labelFontSize": 10, "labelFontWeight": "bold", "labelColor": "#111", "labelOverlap": false, "titleFont": "Liberation Sans", "titleFontSize": 11, "titleFontWeight": "bold", "titleColor": "#222"},
  "legend": {"orient": "none", "titleFont": "Liberation Sans", "titleFontSize": 13, "titleFontWeight": "bold", "titleColor": "#111", "titleAnchor": "middle", "titlePadding": 3, "labelFont": "Liberation Sans", "labelFontSize": 10, "labelFontWeight": "bold", "labelColor": "#222", "labelOffset": 4},
  "title": {"font": "Liberation Sans", "fontSize": 14, "fontWeight": "bold", "anchor": "start", "frame": "group", "color": "#000", "offset": 7}
 }
}
